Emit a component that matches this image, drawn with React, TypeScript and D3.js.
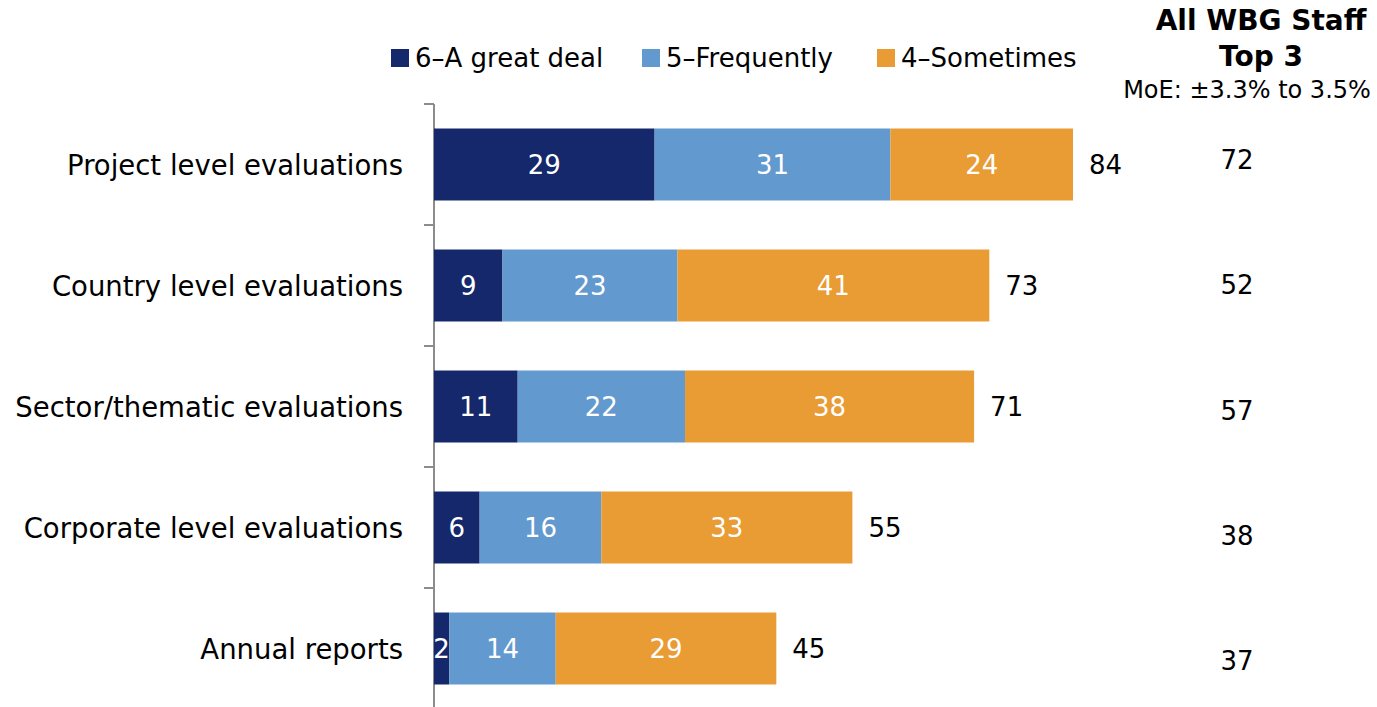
import React from "react";
import * as d3 from "d3";

const categories = [
  "Project level evaluations",
  "Country level evaluations",
  "Sector/thematic evaluations",
  "Corporate level evaluations",
  "Annual reports",
];
const greatDeal = [29, 9, 11, 6, 2];
const frequently = [31, 23, 22, 16, 14];
const sometimes = [24, 41, 38, 33, 29];
const totals = [84, 73, 71, 55, 45];
const allStaffTop3 = [72, 52, 57, 38, 37];
const seriesNames = ["6\u2013A great deal", "5\u2013Frequently", "4\u2013Sometimes"];
const colors = ["#14286b", "#6299ce", "#e99b34"];

const FONT = "'DejaVu Sans', Verdana, sans-serif";

export default function App() {
  const W = 1377;
  const H = 707;
  const x = d3.scaleLinear().domain([0, 100]).range([434, 434 + 760.7]);
  const y = d3
    .scaleBand<string>()
    .domain(categories)
    .range([104, 709])
    .paddingInner(0.405)
    .paddingOuter(0.2025);
  const yRight = d3.scalePoint<string>().domain(categories).range([160, 661]);
  const series = [greatDeal, frequently, sometimes];
  const rows = categories.map((c, i) => ({ c, vals: series.map((s) => s[i]) }));
  const stack = rows.map((r) => {
    let acc = 0;
    return r.vals.map((v) => {
      const s = acc;
      acc += v;
      return [s, acc];
    });
  });
  const ticks = categories.map((c) => y(c)! - (y.step() * y.paddingInner()) / 2);

  const legendX = [391, 642, 877];

  return (
    <svg
      width={W}
      height={H}
      style={{ position: "absolute", left: 0, top: 0, background: "#fff" }}
      fontFamily={FONT}
    >
      {/* legend */}
      {seriesNames.map((n, i) => (
        <g key={n}>
          <rect x={legendX[i]} y={49} width={18} height={18} fill={colors[i]} />
          <text x={legendX[i] + 24} y={58} dominantBaseline="central" fontSize={26} fill="#000">
            {n}
          </text>
        </g>
      ))}
      {/* header */}
      <text x={1261} y={20} textAnchor="middle" dominantBaseline="central" fontSize={28} fontWeight="bold">
        All WBG Staff
      </text>
      <text x={1261} y={56} textAnchor="middle" dominantBaseline="central" fontSize={28} fontWeight="bold">
        Top 3
      </text>
      <text x={1247} y={90} textAnchor="middle" dominantBaseline="central" fontSize={24}>
        MoE: ±3.3% to 3.5%
      </text>

      {/* axis */}
      <line x1={434} x2={434} y1={104} y2={707} stroke="#8c8c8c" strokeWidth={2} />
      {ticks.map((t, i) => (
        <line key={i} x1={424} x2={434} y1={t} y2={t} stroke="#8c8c8c" strokeWidth={2} />
      ))}

      {rows.map((r, i) => (
        <g key={r.c}>
          <text
            x={403}
            y={y(r.c)! + y.bandwidth() / 2}
            textAnchor="end"
            dominantBaseline="central"
            fontSize={27.5}
          >
            {r.c}
          </text>
          {stack[i].map(([s, e], j) => (
            <g key={j}>
              <rect
                x={x(s)}
                y={y(r.c)}
                width={x(e) - x(s)}
                height={y.bandwidth()}
                fill={colors[j]}
              />
              <text
                x={(x(s) + x(e)) / 2}
                y={y(r.c)! + y.bandwidth() / 2}
                textAnchor="middle"
                dominantBaseline="central"
                fontSize={26}
                fill="#fff"
              >
                {r.vals[j]}
              </text>
            </g>
          ))}
          <text
            x={x(totals[i]) + 16}
            y={y(r.c)! + y.bandwidth() / 2}
            dominantBaseline="central"
            fontSize={26}
          >
            {totals[i]}
          </text>
          <text x={1237} y={yRight(r.c)} textAnchor="middle" dominantBaseline="central" fontSize={26}>
            {allStaffTop3[i]}
          </text>
        </g>
      ))}
    </svg>
  );
}
